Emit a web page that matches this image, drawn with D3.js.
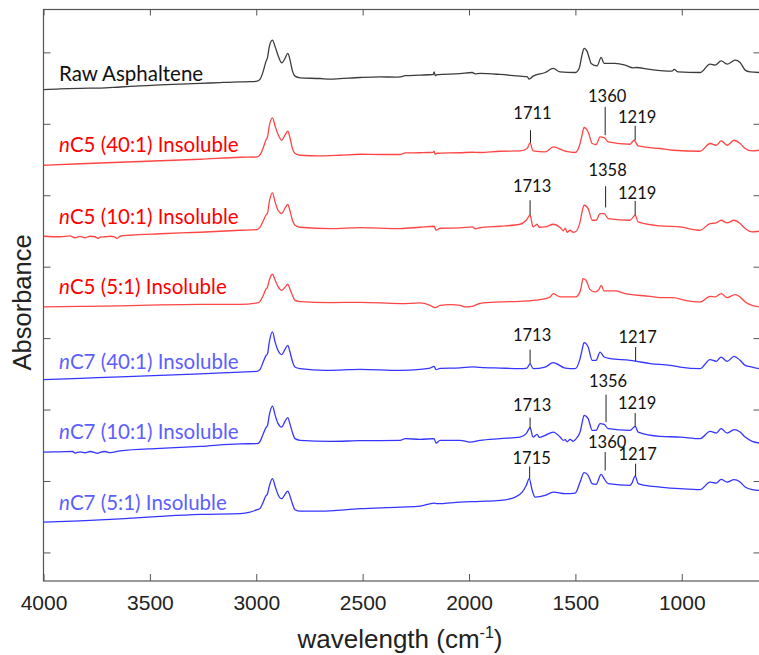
<!DOCTYPE html>
<html>
<head>
<meta charset="utf-8">
<title>FTIR spectra of asphaltene fractions</title>
<script src="https://cdnjs.cloudflare.com/ajax/libs/d3/7.8.5/d3.min.js"></script>
<style>
body{margin:0;background:#fff;}
.chart .spine{stroke:#555;stroke-width:1.2;fill:none;}
.chart .tick-mark{stroke:#555;stroke-width:1;}
.chart .trace{fill:none;stroke-width:1.3;stroke-linejoin:round;}
.chart .peak-line{stroke:#222;stroke-width:1;}
</style>
</head>
<body>
<svg class="chart" xmlns="http://www.w3.org/2000/svg"></svg>
<script>
// spectra: [wavenumber cm-1, absorbance (stacked, a.u.)]
var rawAsphaltene=[[4000,6.478],[3922,6.49],[3828,6.497],[3734,6.50],[3640,6.515],[3546,6.53],[3452,6.545],[3358,6.555],[3264,6.565],[3170,6.577],[3076,6.587],[3029,6.59],[2996,6.597],[2982,6.625],[2968,6.727],[2955,6.867],[2947,6.929],[2939,7.077],[2924,7.171],[2911,7.077],[2898,6.961],[2880,6.853],[2865,6.915],[2852,6.985],[2841,6.891],[2830,6.741],[2818,6.667],[2794,6.643],[2700,6.634],[2653,6.625],[2606,6.632],[2512,6.648],[2418,6.657],[2347,6.653],[2324,6.657],[2300,6.674],[2230,6.681],[2168,6.69],[2164,6.727],[2159,6.675],[2150,6.688],[2042,6.702],[1985,6.718],[1971,6.70],[1948,6.705],[1854,6.691],[1760,6.667],[1727,6.66],[1717,6.625],[1699,6.667],[1642,6.718],[1604,6.775],[1572,6.727],[1501,6.718],[1482,6.779],[1469,6.961],[1459,7.055],[1444,7.007],[1435,6.92],[1426,6.845],[1398,6.811],[1379,6.929],[1365,6.845],[1314,6.845],[1266,6.821],[1229,6.783],[1215,6.788],[1149,6.761],[1046,6.737],[1036,6.761],[1017,6.727],[914,6.718],[867,6.835],[843,6.821],[815,6.881],[787,6.835],[749,6.891],[726,6.859],[702,6.751],[679,6.727],[636,6.718]];

var nC5_40=[[4000,5.420],[3828,5.441],[3640,5.462],[3452,5.483],[3264,5.504],[3076,5.532],[2996,5.536],[2982,5.567],[2968,5.658],[2955,5.770],[2947,5.817],[2939,5.966],[2924,6.083],[2911,5.966],[2898,5.854],[2880,5.770],[2865,5.840],[2852,5.896],[2841,5.798],[2830,5.654],[2818,5.584],[2794,5.560],[2700,5.550],[2606,5.560],[2512,5.574],[2418,5.570],[2324,5.570],[2300,5.592],[2230,5.595],[2168,5.602],[2164,5.616],[2159,5.574],[2150,5.588],[2042,5.595],[1985,5.602],[1948,5.598],[1854,5.616],[1760,5.620],[1727,5.654],[1713,5.733],[1699,5.620],[1642,5.606],[1604,5.676],[1548,5.616],[1501,5.598],[1478,5.724],[1469,5.840],[1459,5.948],[1440,5.886],[1421,5.724],[1403,5.710],[1384,5.817],[1365,5.808],[1346,5.746],[1243,5.714],[1224,5.770],[1205,5.690],[1102,5.654],[1041,5.630],[914,5.616],[867,5.724],[838,5.700],[815,5.761],[787,5.700],[754,5.770],[726,5.724],[702,5.654],[669,5.620],[636,5.630]];

var nC5_10=[[4000,4.426],[3922,4.419],[3875,4.430],[3852,4.405],[3828,4.424],[3805,4.405],[3781,4.426],[3758,4.419],[3744,4.395],[3734,4.414],[3711,4.419],[3687,4.426],[3664,4.414],[3655,4.395],[3640,4.426],[3593,4.440],[3452,4.461],[3264,4.482],[3076,4.510],[2996,4.520],[2982,4.552],[2968,4.636],[2955,4.720],[2947,4.752],[2939,4.902],[2924,5.032],[2911,4.902],[2898,4.790],[2880,4.743],[2865,4.818],[2852,4.870],[2841,4.776],[2830,4.650],[2818,4.580],[2794,4.552],[2653,4.534],[2512,4.548],[2324,4.534],[2230,4.552],[2164,4.566],[2155,4.510],[2136,4.538],[2042,4.542],[1985,4.556],[1971,4.531],[1948,4.545],[1854,4.566],[1760,4.594],[1731,4.650],[1713,4.720],[1699,4.556],[1680,4.594],[1670,4.552],[1642,4.556],[1604,4.594],[1572,4.548],[1557,4.503],[1548,4.538],[1539,4.482],[1525,4.510],[1510,4.482],[1501,4.486],[1478,4.626],[1469,4.762],[1459,4.860],[1440,4.813],[1421,4.650],[1403,4.650],[1384,4.744],[1365,4.744],[1346,4.674],[1243,4.650],[1219,4.720],[1205,4.626],[1102,4.570],[1008,4.556],[914,4.510],[867,4.604],[838,4.612],[815,4.650],[787,4.612],[754,4.650],[726,4.604],[702,4.534],[669,4.486],[636,4.496]];

var nC5_5=[[4000,3.436],[3828,3.445],[3640,3.452],[3452,3.466],[3264,3.473],[3076,3.473],[2996,3.492],[2982,3.515],[2968,3.592],[2955,3.683],[2947,3.716],[2939,3.810],[2924,3.894],[2911,3.810],[2898,3.725],[2880,3.669],[2865,3.711],[2852,3.754],[2841,3.683],[2830,3.599],[2818,3.529],[2794,3.511],[2653,3.497],[2512,3.501],[2324,3.483],[2230,3.492],[2183,3.459],[2159,3.427],[2136,3.459],[2089,3.469],[2042,3.459],[2018,3.436],[1985,3.445],[1948,3.487],[1854,3.506],[1760,3.515],[1666,3.539],[1619,3.576],[1604,3.623],[1572,3.576],[1501,3.576],[1482,3.623],[1473,3.711],[1464,3.833],[1450,3.810],[1431,3.679],[1407,3.646],[1389,3.683],[1379,3.739],[1365,3.660],[1314,3.660],[1266,3.623],[1149,3.585],[1102,3.567],[1041,3.567],[984,3.529],[914,3.506],[867,3.585],[843,3.576],[815,3.623],[787,3.567],[749,3.609],[726,3.576],[702,3.506],[669,3.459],[636,3.436]];

var nC7_40=[[4000,2.419],[3828,2.437],[3640,2.458],[3452,2.479],[3264,2.500],[3076,2.525],[2996,2.535],[2982,2.563],[2968,2.661],[2955,2.752],[2947,2.783],[2939,2.941],[2924,3.086],[2911,2.941],[2898,2.829],[2880,2.769],[2865,2.843],[2852,2.899],[2841,2.801],[2830,2.675],[2818,2.595],[2794,2.573],[2676,2.549],[2606,2.553],[2512,2.563],[2324,2.549],[2230,2.563],[2183,2.581],[2164,2.605],[2155,2.559],[2136,2.577],[2042,2.584],[1985,2.598],[1948,2.591],[1854,2.581],[1760,2.573],[1727,2.581],[1713,2.643],[1699,2.573],[1642,2.595],[1604,2.657],[1548,2.581],[1501,2.573],[1478,2.713],[1469,2.829],[1459,2.937],[1440,2.875],[1421,2.689],[1403,2.689],[1384,2.805],[1365,2.735],[1337,2.713],[1243,2.689],[1219,2.679],[1149,2.643],[1055,2.619],[1008,2.595],[914,2.573],[867,2.699],[838,2.675],[815,2.735],[787,2.675],[754,2.745],[726,2.689],[702,2.619],[669,2.595],[636,2.573]];

var nC7_10=[[4000,1.405],[3922,1.408],[3862,1.413],[3852,1.392],[3828,1.408],[3805,1.395],[3781,1.413],[3744,1.388],[3734,1.401],[3711,1.413],[3687,1.398],[3640,1.422],[3452,1.457],[3264,1.485],[3076,1.520],[2996,1.522],[2982,1.555],[2968,1.653],[2955,1.744],[2947,1.779],[2939,1.919],[2924,2.049],[2911,1.919],[2898,1.807],[2880,1.755],[2865,1.835],[2852,1.887],[2841,1.793],[2830,1.681],[2818,1.593],[2794,1.569],[2653,1.555],[2512,1.564],[2324,1.569],[2300,1.593],[2230,1.583],[2164,1.593],[2155,1.531],[2136,1.569],[2042,1.569],[1995,1.545],[1948,1.569],[1854,1.593],[1760,1.615],[1731,1.663],[1713,1.746],[1699,1.615],[1680,1.653],[1670,1.611],[1642,1.639],[1604,1.685],[1572,1.615],[1557,1.569],[1548,1.578],[1539,1.548],[1525,1.583],[1510,1.555],[1501,1.578],[1478,1.685],[1469,1.807],[1459,1.919],[1440,1.872],[1421,1.709],[1403,1.709],[1384,1.803],[1365,1.793],[1346,1.732],[1243,1.709],[1219,1.765],[1205,1.685],[1102,1.625],[1008,1.615],[914,1.593],[867,1.695],[838,1.671],[815,1.732],[787,1.671],[754,1.718],[726,1.685],[702,1.615],[669,1.555],[636,1.531]];

var nC7_5=[[4000,0.424],[3828,0.441],[3640,0.469],[3452,0.504],[3264,0.532],[3076,0.542],[3029,0.564],[2996,0.598],[2982,0.616],[2968,0.700],[2955,0.791],[2947,0.822],[2939,0.924],[2924,1.032],[2911,0.924],[2898,0.812],[2880,0.752],[2865,0.812],[2852,0.859],[2841,0.784],[2830,0.682],[2818,0.598],[2794,0.578],[2700,0.578],[2512,0.612],[2324,0.634],[2230,0.648],[2164,0.690],[2150,0.682],[2042,0.704],[1948,0.714],[1854,0.728],[1783,0.774],[1750,0.845],[1731,0.938],[1717,1.032],[1703,0.868],[1689,0.774],[1642,0.798],[1604,0.845],[1548,0.822],[1501,0.831],[1478,0.985],[1459,1.116],[1440,1.078],[1421,0.962],[1403,0.952],[1379,1.092],[1365,1.032],[1346,0.962],[1243,0.938],[1234,0.971],[1219,1.069],[1205,0.962],[1172,0.938],[1102,0.915],[1008,0.892],[914,0.878],[867,0.985],[838,0.971],[815,1.022],[787,0.985],[754,1.018],[726,0.985],[702,0.915],[669,0.878],[636,0.868]];

var seriesNames=["Raw Asphaltene","nC5 (40:1) Insoluble","nC5 (10:1) Insoluble","nC5 (5:1) Insoluble","nC7 (40:1) Insoluble","nC7 (10:1) Insoluble","nC7 (5:1) Insoluble"];
var seriesData=[rawAsphaltene,nC5_40,nC5_10,nC5_5,nC7_40,nC7_10,nC7_5];
var seriesGroup=["raw","nC5","nC5","nC5","nC7","nC7","nC7"];
// level (absorbance units) of each series label's baseline
var labelLevels=[6.597,5.602,4.604,3.613,2.573,1.592,0.588];

// marked peaks: series index, wavenumber, text, line top, line bottom, text level
var peakSeries=[1,1,1,2,2,2,4,4,5,5,5,6,6,6];
var peakWn=[1711,1360,1219,1713,1358,1219,1713,1217,1713,1356,1219,1715,1360,1217];
var peakTop=[5.910,6.237,5.971,4.930,5.126,4.920,2.839,2.875,1.887,2.209,1.951,1.204,1.405,1.242];
var peakBottom=[5.733,5.840,5.770,4.720,4.828,4.720,2.643,2.679,1.732,1.825,1.755,1.032,1.148,1.069];
var peakTextLevel=[6.071,6.300,6.015,5.049,5.263,4.947,2.962,2.930,1.982,2.318,2.006,1.235,1.468,1.296];

var xTicks=[4000,3500,3000,2500,2000,1500,1000];
var yTicks=[0,1,2,3,4,5,6,7];

var lineColor={raw:"#3c3c3c",nC5:"#ff4545",nC7:"#3535ff"};
var textColor={raw:"#111",nC5:"#ff0000",nC7:"#5e5eff"};

var width=759,height=655;
var margin={left:43.5,right:-1.5,top:9.5,bottom:74};
var x=d3.scaleLinear().domain([4000,630]).range([margin.left,width-margin.right]);
var y=d3.scaleLinear().domain([-0.4,7.6]).range([height-margin.bottom,margin.top]);

var chart=d3.select(".chart").attr("width",width).attr("height",height);

chart.append("defs").append("clipPath").attr("id","plot-clip")
	.append("rect")
	.attr("x",margin.left).attr("y",margin.top)
	.attr("width",x.range()[1]-margin.left)
	.attr("height",y.range()[0]-margin.top);

// axes: ticks point inward on all four sides
var bottomAxis=d3.axisBottom(x).tickValues(xTicks).tickSizeInner(-7).tickSizeOuter(0).tickPadding(14).tickFormat(d3.format("d"));
var gx=chart.append("g").attr("transform","translate(0,"+y.range()[0]+")").call(bottomAxis);
gx.select(".domain").remove();
gx.selectAll(".tick line").attr("class","tick-mark");
gx.selectAll("text").attr("font-family","'Liberation Sans',Arial,sans-serif")
	.attr("font-size","21px").attr("fill","#222");

var topAxis=d3.axisTop(x).tickValues(xTicks).tickSizeInner(-6).tickSizeOuter(0).tickFormat("");
var gt=chart.append("g").attr("transform","translate(0,"+margin.top+")").call(topAxis);
gt.select(".domain").remove();
gt.selectAll(".tick line").attr("class","tick-mark");

var leftAxis=d3.axisLeft(y).tickValues(yTicks).tickSizeInner(-7).tickSizeOuter(0).tickFormat("");
var gy=chart.append("g").attr("transform","translate("+margin.left+",0)").call(leftAxis);
gy.select(".domain").remove();
gy.selectAll(".tick line").attr("class","tick-mark");

var rightAxis=d3.axisRight(y).tickValues(yTicks).tickSizeInner(-7).tickSizeOuter(0).tickFormat("");
var gr=chart.append("g").attr("transform","translate("+x.range()[1]+",0)").call(rightAxis);
gr.select(".domain").remove();
gr.selectAll(".tick line").attr("class","tick-mark");

chart.append("rect").attr("class","spine")
	.attr("x",margin.left).attr("y",margin.top)
	.attr("width",x.range()[1]-margin.left)
	.attr("height",y.range()[0]-margin.top);

// axis titles
var xTitle=chart.append("text")
	.attr("x",400).attr("y",648)
	.attr("text-anchor","middle")
	.attr("font-family","'Liberation Sans',Arial,sans-serif")
	.attr("font-size","26px").attr("fill","#222")
	.text("wavelength (cm");
xTitle.append("tspan").attr("dy",-10).attr("font-size","16px").text("-1");
xTitle.append("tspan").attr("dy",10).text(")");

chart.append("text")
	.attr("transform","translate(31,"+y(3.5)+") rotate(-90)")
	.attr("text-anchor","middle")
	.attr("font-family","'Liberation Sans',Arial,sans-serif")
	.attr("font-size","25.5px").attr("fill","#222")
	.text("Absorbance");

// spectra
var line=d3.line().curve(d3.curveMonotoneX)
	.x(function(d){return x(d[0]);}).y(function(d){return y(d[1]);});
chart.append("g").attr("clip-path","url(#plot-clip)")
	.selectAll("path").data(seriesData).enter()
	.append("path")
	.attr("class","trace")
	.attr("stroke",function(d,i){return lineColor[seriesGroup[i]];})
	.attr("d",line);

// series labels
var labels=chart.selectAll("text.series-label").data(seriesNames).enter()
	.append("text")
	.attr("class","series-label")
	.attr("x",margin.left+15.5)
	.attr("y",function(d,i){return y(labelLevels[i]);})
	.attr("font-family","Lato,'Open Sans',sans-serif")
	.attr("font-size","20.5px")
	.attr("fill",function(d,i){return textColor[seriesGroup[i]];});
labels.each(function(d){
	var t=d3.select(this);
	if(d.charAt(0)=="n"){
		t.append("tspan").attr("font-style","italic").text("n");
		t.append("tspan").text(d.slice(1));
	}else{
		t.text(d);
	}
});

// peak markers
var peaks=chart.selectAll("g.peak").data(peakWn).enter().append("g").attr("class","peak");
peaks.append("line").attr("class","peak-line")
	.attr("x1",function(d){return x(d);}).attr("x2",function(d){return x(d);})
	.attr("y1",function(d,i){return y(peakTop[i]);})
	.attr("y2",function(d,i){return y(peakBottom[i]);});
peaks.append("text")
	.attr("x",function(d){return x(d)+2;})
	.attr("y",function(d,i){return y(peakTextLevel[i]);})
	.attr("text-anchor","middle")
	.attr("font-family","Lato,'Open Sans',sans-serif")
	.attr("font-size","16.5px").attr("fill","#111")
	.text(function(d){return d;});
</script>
</body>
</html>
